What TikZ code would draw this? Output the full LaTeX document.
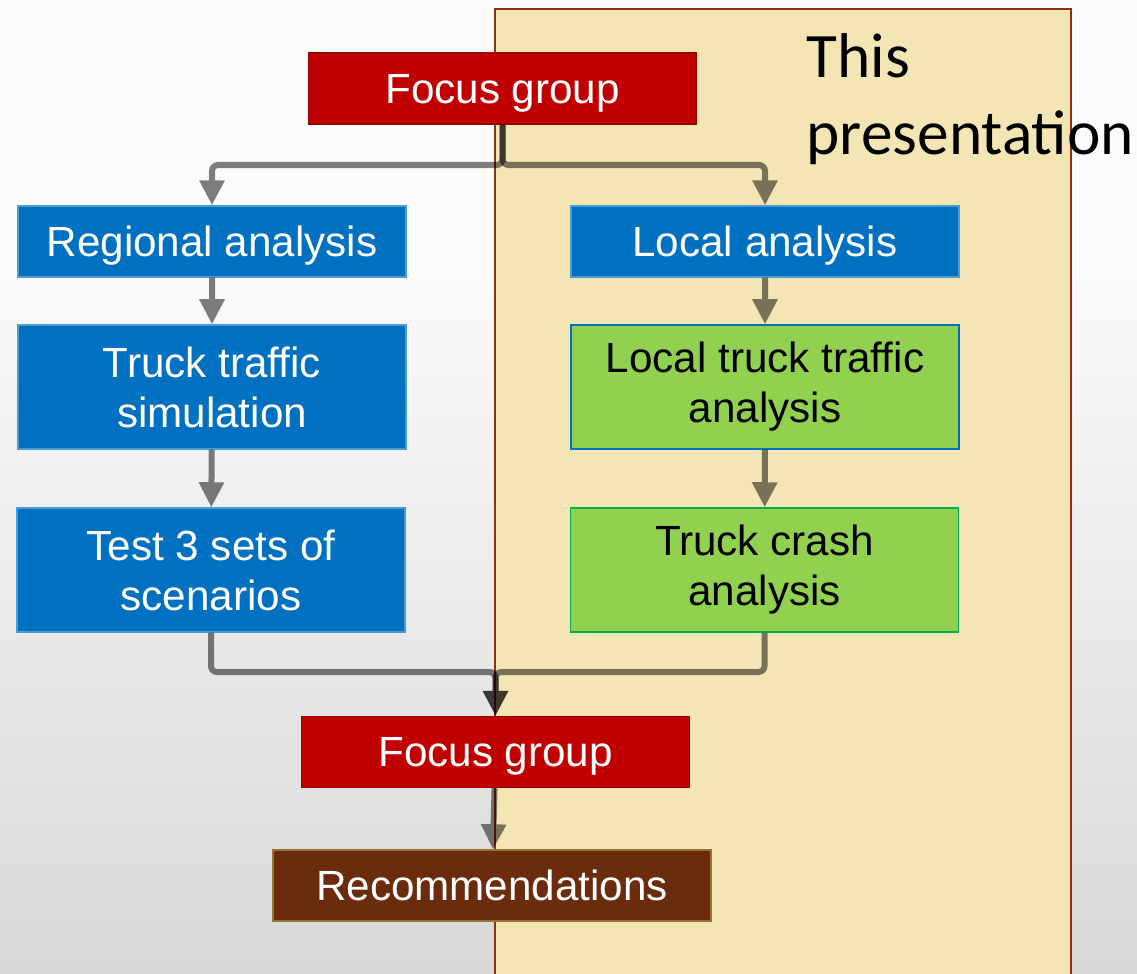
\documentclass[tikz,border=0pt]{standalone}
\usepackage{fontspec}
\setmainfont{Liberation Sans}
\newfontfamily\slidefont{Carlito}
\usetikzlibrary{arrows.meta,positioning}
\usepackage{xcolor}
\definecolor{focusred}{RGB}{192,0,0}
\definecolor{analysisblue}{RGB}{0,112,192}
\definecolor{localgreen}{RGB}{146,208,80}
\definecolor{crashgreen}{RGB}{0,176,80}
\definecolor{recbrown}{RGB}{106,44,12}
\definecolor{recborder}{RGB}{150,115,50}
\definecolor{scopetan}{RGB}{244,230,180}
\definecolor{scopeborder}{RGB}{140,48,22}
\definecolor{bgtop}{RGB}{252,252,252}
\definecolor{bgbottom}{RGB}{216,216,216}
% one connector in its own see-through group
\newcommand{\flowline}[1]{\begin{scope}[transparency group, opacity=0.5]\draw[flow] #1;\end{scope}}

\begin{document}
\begin{tikzpicture}[
    x=0.01cm, y=-0.01cm,
    boxbase/.style={draw=analysisblue!70!white, fill=analysisblue, text=white, minimum width=3.88cm, inner sep=0pt, align=center, font=\fontsize{12}{14.2}\selectfont},
    box/.style={boxbase, minimum height=0.71cm, text depth=0pt},
    tallbox/.style={boxbase, minimum height=1.24cm},
    flow/.style={draw=black, line width=0.06cm, rounded corners=0.06cm, -{Triangle[length=0.25cm,width=0.24cm]}}
]
\useasboundingbox (0,0) rectangle (1137,973);
% slide background
\fill[bgtop] (0,0) rectangle (1137,250);
\shade[top color=bgtop, bottom color=bgbottom] (0,249) rectangle (1137,973);
% scope of this presentation
\draw[scopeborder, line width=0.02cm, fill=scopetan] (495,9) rectangle (1071,1000);
\node[anchor=north west, inner sep=0pt, align=left, font=\slidefont\fontsize{18}{21.9}\selectfont] (thispres) at (806,33) {This\\presentation};

% boxes
\node[box, fill=focusred, draw=focusred!80!black] (focustop) at (502.5,88.5) {Focus group};
\node[box] (regional) at (212,241.5) {Regional analysis};
\node[box] (local) at (765,241.5) {Local analysis};
\node[tallbox] (simulation) at (212,387) {Truck traffic\\simulation};
\node[tallbox, fill=localgreen, draw=analysisblue, text=black] (localtraffic) at (765,387) {Local truck traffic\\analysis};
\node[tallbox] (scenarios) at (211,570) {Test 3 sets of\\scenarios};
\node[tallbox, fill=localgreen, draw=crashgreen, text=black] (crash) at (764.5,570) {Truck crash\\analysis};
\node[box, fill=focusred, draw=focusred!80!black] (focusbottom) at (495.5,752) {Focus group};
\node[box, fill=recbrown, draw=recborder, minimum width=4.38cm] (recommend) at (492,885.5) {Recommendations};

% connectors
\coordinate (split) at (502.5,165);
\coordinate (merge) at (495.5,672);
\flowline{(focustop.south) -- (split) -| (regional.north)}
\flowline{(focustop.south) -- (split) -| (local.north)}
\flowline{(regional) -- (simulation)}
\flowline{(simulation) -- (scenarios)}
\flowline{(local) -- (localtraffic)}
\flowline{(localtraffic) -- (crash)}
\flowline{(scenarios.south) |- (merge) -- (focusbottom.north)}
\flowline{(crash.south) |- (merge) -- (focusbottom.north)}
\flowline{(focusbottom) -- (recommend)}
\end{tikzpicture}
\end{document}
